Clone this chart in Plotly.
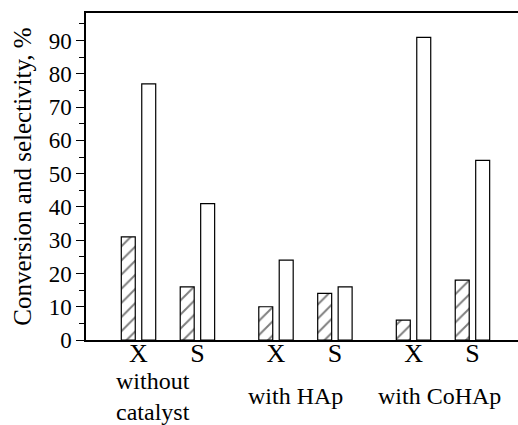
import plotly.graph_objects as go

# Data
positions = [1, 2, 3.333, 4.333, 5.667, 6.667]
tick_labels = ["X", "S", "X", "S", "X", "S"]
hatched_values = [31, 16, 10, 14, 6, 18]
white_values = [77, 41, 24, 16, 91, 54]
group_labels = ["without<br>catalyst", "with HAp", "with CoHAp"]
group_label_x = [1.246, 3.657, 6.11]

FONT = "Liberation Serif"

fig = go.Figure()
fig.add_trace(go.Bar(
    x=positions, y=hatched_values,
    marker=dict(color="white", line=dict(color="black", width=1.2),
                pattern=dict(shape="/", fgcolor="black", bgcolor="white",
                             size=10, solidity=0.2)),
    showlegend=False,
))
fig.add_trace(go.Bar(
    x=positions, y=white_values,
    marker=dict(color="white", line=dict(color="black", width=1.2)),
    showlegend=False,
))

for lx, lt in zip(group_label_x, group_labels):
    fig.add_annotation(x=lx, y=-0.172, xref="x", yref="paper", text=lt,
                       showarrow=False, yanchor="middle",
                       font=dict(family=FONT, size=24, color="black"))

fig.update_layout(
    width=518, height=425,
    margin=dict(l=86, r=0, t=13, b=85),
    paper_bgcolor="white", plot_bgcolor="white",
    barmode="group", bargap=0.306, bargroupgap=0.317,
    font=dict(family=FONT, color="black"),
    xaxis=dict(range=[0.109, 7.44], tickvals=positions, ticktext=tick_labels,
               showline=True, linecolor="black", linewidth=1.5, mirror=True,
               ticks="", ticklabelstandoff=-11, showgrid=False, zeroline=False,
               tickfont=dict(family=FONT, size=26, color="black")),
    yaxis=dict(range=[0, 98.3], tickvals=[0, 10, 20, 30, 40, 50, 60, 70, 80, 90],
               showline=True, linecolor="black", linewidth=1.5, mirror=False,
               ticks="outside", ticklen=8, tickwidth=1.3, tickcolor="black",
               minor=dict(ticks="outside", ticklen=5, tickwidth=1.1,
                          tickcolor="black", dtick=5, showgrid=False),
               showgrid=False, zeroline=False,
               tickfont=dict(family=FONT, size=23, color="black"),
               title=dict(text="Conversion and selectivity, %", standoff=10,
                          font=dict(family=FONT, size=25, color="black"))),
)

fig.write_html("out.html", config={"displayModeBar": False},
               post_script="document.body.style.margin='0px';")
